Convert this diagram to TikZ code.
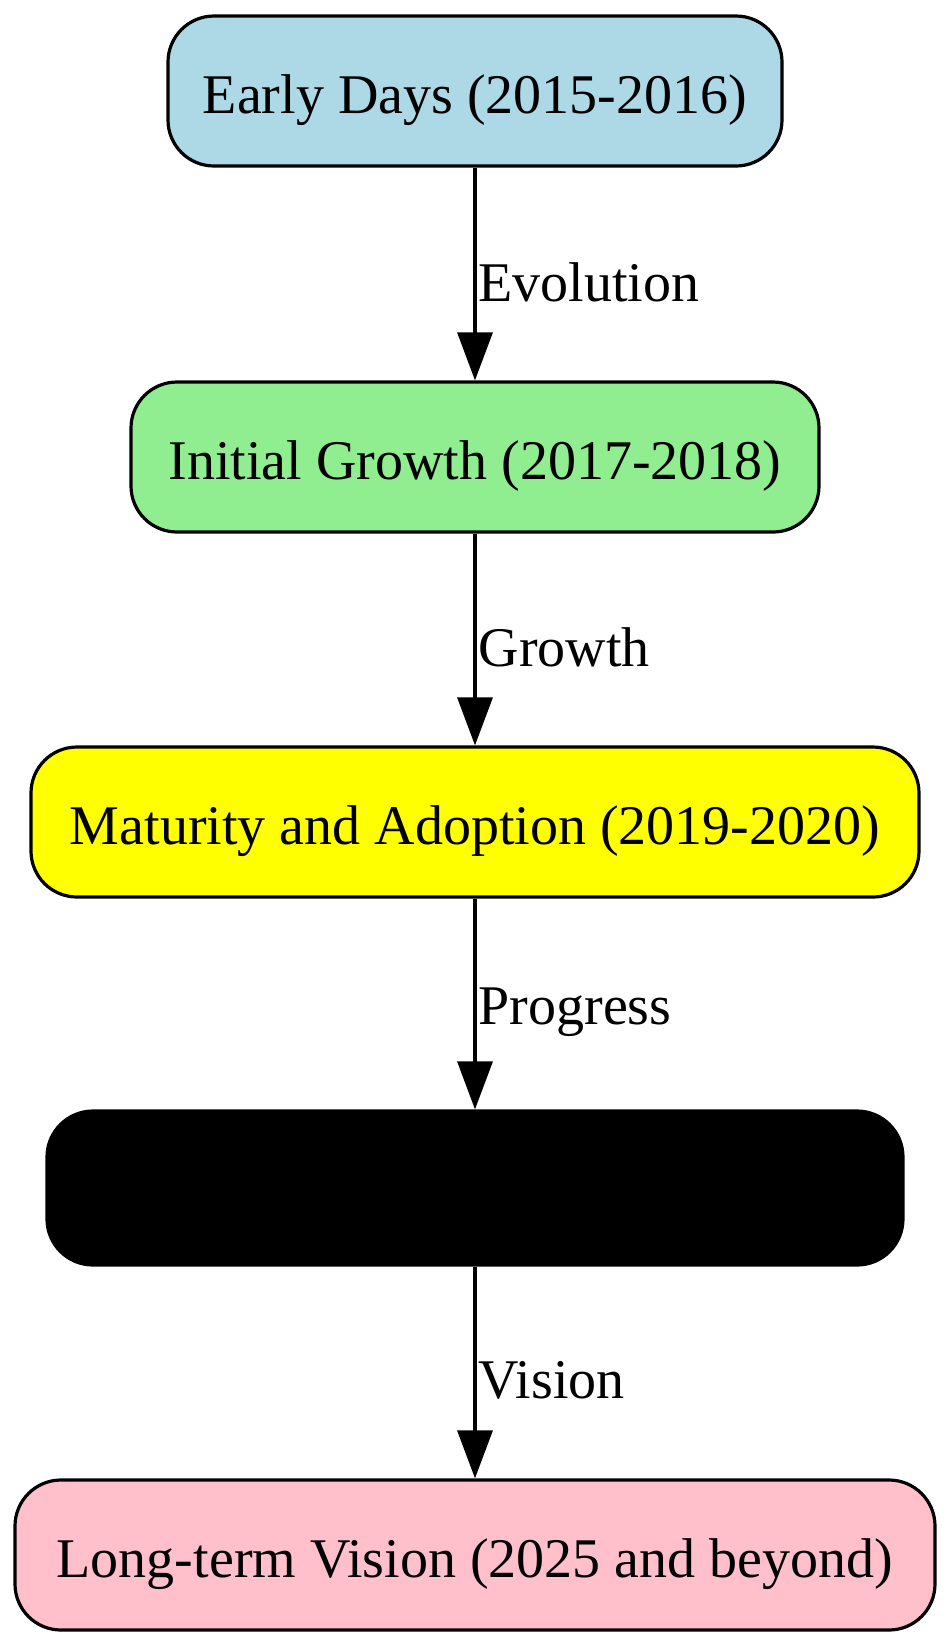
\documentclass[tikz,border=0pt]{standalone}
\usepackage{fontspec}
\setmainfont{Liberation Serif}
\usetikzlibrary{arrows.meta}

\definecolor{earlyblue}{RGB}{173,216,230}
\definecolor{growthgreen}{RGB}{144,238,144}
\definecolor{matureyellow}{RGB}{255,255,0}
\definecolor{maturepink}{RGB}{255,192,203}

\begin{document}
\begin{tikzpicture}[x=0.5pt,y=-0.5pt]
  \tikzset{phase/.style = {shape=rectangle,rounded corners=23pt,draw,line width=1.6pt,inner sep=0pt,minimum height=75pt,text height=25pt,text depth=3pt,font=\fontsize{28}{32}\selectfont}}
  \tikzset{edge/.style = {-{Triangle[length=24pt,width=17.5pt]},line width=1.6pt}}

  \useasboundingbox (0,0) rectangle (950,1646);

	\node[phase,fill=earlyblue,minimum width=307pt] (early) at (475,91) {Early Days (2015-2016)};
	\node[phase,fill=growthgreen,minimum width=344pt] (initial) at (475,457) {Initial Growth (2017-2018)};
	\node[phase,fill=matureyellow,minimum width=444pt] (mature) at (475,822) {Maturity and Adoption (2019-2020)};
	\node[phase,fill=black,minimum width=428pt,minimum height=77pt] (recent) at (475,1188) {};
	\node[phase,fill=maturepink,minimum width=460pt] (vision) at (475,1555) {Long-term Vision (2025 and beyond)};

       \foreach \from/\to/\lbl in {early/initial/Evolution, initial/mature/Growth, mature/recent/Progress, recent/vision/Vision}
    \draw[edge] (\from) -- node[right,inner sep=1pt,yshift=-4pt,font=\fontsize{28}{32}\selectfont] {\lbl} (\to);

\end{tikzpicture}
\end{document}
